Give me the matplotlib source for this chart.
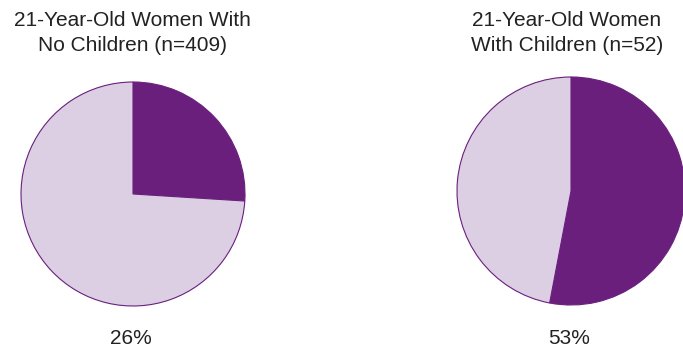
import matplotlib.pyplot as plt

# data
titles = ["21-Year-Old Women With\nNo Children (n=409)",
          "21-Year-Old Women\nWith Children (n=52)"]
shares = [26, 53]          # percent, dark slice
labels = ["26%", "53%"]

dark = "#6a1f7d"
light = "#dccfe4"

W, H = 683, 350
fig = plt.figure(figsize=(W / 100, H / 100), dpi=100)
ax = fig.add_axes([0, 0, 1, 1])

centers = [(133, 350 - 194), (571, 350 - 191)]
radii = [112, 114]
title_x = [132, 567]

for i in range(2):
    ax.pie([shares[i], 100 - shares[i]], colors=[dark, light],
           startangle=90, counterclock=False,
           center=centers[i], radius=radii[i],
           wedgeprops=dict(edgecolor=dark, linewidth=0.8), frame=True)
    ax.text(title_x[i], 350 - 33, titles[i], ha="center", va="center",
            fontsize=15, family="Liberation Sans", color="#222222", linespacing=1.4)
    ax.text(centers[i][0] - 2, 350 - 338, labels[i], ha="center", va="center",
            fontsize=15, family="Liberation Sans", color="#222222")

ax.set_xlim(0, W)
ax.set_ylim(0, H)
ax.set_aspect("equal")
ax.axis("off")
fig.savefig("out.png", dpi=100)
